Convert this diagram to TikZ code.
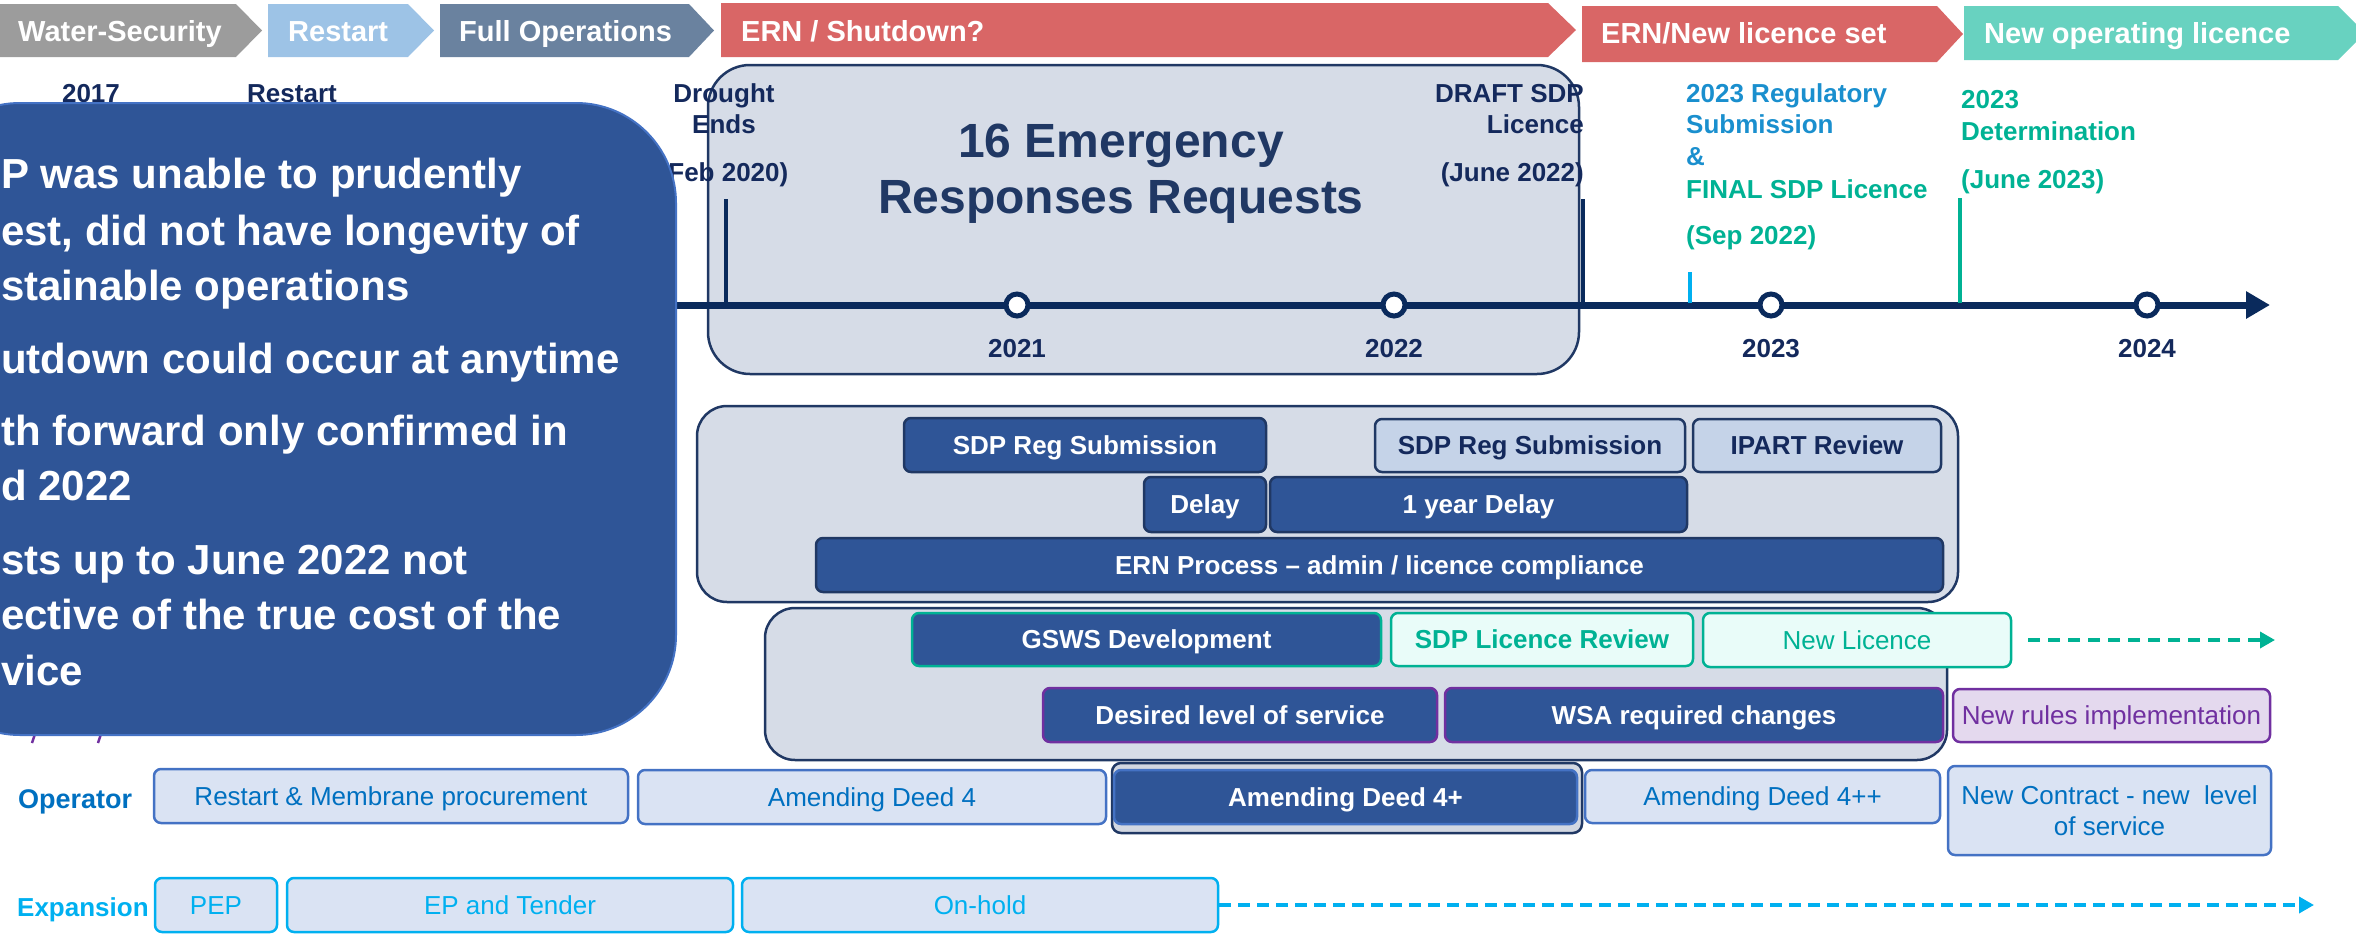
\documentclass[tikz,border=0pt]{standalone}
\usepackage{fontspec}
\setmainfont{Liberation Sans}
\usetikzlibrary{arrows.meta}

\definecolor{navyline}{HTML}{0A2A5C}
\definecolor{navytxt}{HTML}{14295C}
\definecolor{headnavy}{HTML}{203864}
\definecolor{chgray}{HTML}{9C9C9C}
\definecolor{chsky}{HTML}{9DC3E6}
\definecolor{chslate}{HTML}{6A829F}
\definecolor{chred}{HTML}{D96666}
\definecolor{chteal}{HTML}{68D2C0}
\definecolor{darkfill}{HTML}{2F5597}
\definecolor{midblue}{HTML}{4472C4}
\definecolor{panel}{HTML}{D6DCE7}
\definecolor{lightbox}{HTML}{C5D3E8}
\definecolor{opfill}{HTML}{DAE3F3}
\definecolor{optext}{HTML}{0070C0}
\definecolor{expblue}{HTML}{00B0F0}
\definecolor{tealc}{HTML}{00B294}
\definecolor{tealfill}{HTML}{E9FCF9}
\definecolor{purp}{HTML}{7030A0}
\definecolor{purpfill}{HTML}{E4D9EE}
\definecolor{regblue}{HTML}{1A8FCE}
\definecolor{framegray}{HTML}{D2D7E1}

% box from its two corners: name, style, x1, y1, x2, y2, text
\newcommand\mkbox[7]{\node[#2, minimum width={(#5)-(#3)}, minimum height={(#6)-(#4)}] (#1) at ({((#3)+(#5))/2},{((#4)+(#6))/2}) {#7};}

\tikzset{
  chevtxt/.style={text=white, font=\fontsize{29}{34}\selectfont\bfseries, anchor=base west, inner sep=0pt},
  tlabel/.style={text=navytxt, font=\fontsize{26}{31}\selectfont\bfseries, inner sep=0pt},
  yearlbl/.style={tlabel, anchor=base},
  yearmark/.style={circle, draw=navyline, line width=5pt, fill=white, minimum size=22pt, inner sep=0pt},
  axisline/.style={draw=navyline, line width=7pt, -{Triangle[length=24pt,width=26pt]}},
  tickline/.style={line width=4pt},
  bigtxt/.style={text=white, font=\fontsize{42}{50}\selectfont\bfseries, anchor=base west, inner sep=0pt},
  emtitle/.style={text=headnavy, font=\fontsize{48}{58}\selectfont\bfseries, anchor=base, inner sep=0pt},
  shell/.style={rectangle, inner sep=0pt, fill=panel, draw=headnavy, line width=2.5pt},
  boxcore/.style={rectangle, rounded corners=7pt, line width=2.5pt, inner sep=0pt, font=\fontsize{26}{31}\selectfont},
  boxbase/.style={boxcore, text height=18.6pt, text depth=0pt},
  darkbox/.style={boxbase, fill=darkfill, draw=headnavy, text=white, font=\fontsize{26}{31}\selectfont\bfseries},
  reglight/.style={boxbase, fill=lightbox, draw=headnavy, text=navytxt, font=\fontsize{26}{31}\selectfont\bfseries},
  tealdark/.style={darkbox, draw=tealc},
  teallight/.style={boxbase, fill=tealfill, draw=tealc, text=tealc},
  purpdark/.style={darkbox, draw=purp},
  purplight/.style={boxbase, fill=purpfill, draw=purp, text=purp},
  opbox/.style={boxbase, fill=opfill, draw=midblue, text=optext},
  opdark/.style={darkbox, draw=midblue},
  opframe/.style={boxbase, rounded corners=9pt, fill=framegray, draw=headnavy},
  expbox/.style={boxbase, fill=opfill, draw=expblue, text=expblue},
  rowlabel/.style={anchor=west, inner sep=0pt, text height=19pt, text depth=0pt, font=\fontsize{27}{32}\selectfont\bfseries},
  tealarrow/.style={draw=tealc, line width=3.5pt, dash pattern=on 12pt off 8pt, -{Triangle[length=15pt,width=16pt]}},
  exparrow/.style={draw=expblue, line width=3.5pt, dash pattern=on 12pt off 7pt, -{Triangle[length=15pt,width=16pt]}}
}

\begin{document}
\begin{tikzpicture}[x=1pt,y=-1pt]
\useasboundingbox (0,0) rectangle (2356,937);

% ---- phase chevrons ----
\fill[chgray]  (-5,4) -- (236,4) -- (262,30.5) -- (236,57) -- (-5,57) -- cycle;
\fill[chsky]   (268,4) -- (408,4) -- (434,30.5) -- (408,57) -- (268,57) -- cycle;
\fill[chslate] (440,4) -- (689,4) -- (714,30.5) -- (689,57) -- (440,57) -- cycle;
\fill[chred]   (721,3) -- (1548,3) -- (1576,30) -- (1548,57) -- (721,57) -- cycle;
\fill[chred]   (1582,6) -- (1937,6) -- (1963,34) -- (1937,62) -- (1582,62) -- cycle;
\fill[chteal]  (1964,6) -- (2338,6) -- (2365,33) -- (2338,60) -- (1964,60) -- cycle;

\node[chevtxt] (ph1) at (18,41)   {Water-Security};
\node[chevtxt] (ph2) at (288,41)  {Restart};
\node[chevtxt] (ph3) at (459,41)  {Full Operations};
\node[chevtxt] (ph4) at (741,41)  {ERN / Shutdown?};
\node[chevtxt] (ph5) at (1601,43) {ERN/New licence set};
\node[chevtxt] (ph6) at (1984,43) {New operating licence};

% ---- emergency period panel ----
\mkbox{emerg}{shell, rounded corners=42pt}{708}{65}{1579}{374}{}

% ---- time axis ----
\coordinate (axstart) at (600,305);
\coordinate (axend) at (2270,305);
\draw[axisline] (axstart) -- (axend);

\coordinate (tkAtop) at (726,199);  \coordinate (tkAbot) at (726,305);
\coordinate (tkBtop) at (1583,199); \coordinate (tkBbot) at (1583,305);
\coordinate (tkCtop) at (1690,272); \coordinate (tkCbot) at (1690,303);
\coordinate (tkDtop) at (1960,198); \coordinate (tkDbot) at (1960,303);
\draw[tickline, navyline] (tkAtop) -- (tkAbot);
\draw[tickline, navyline] (tkBtop) -- (tkBbot);
\draw[tickline, expblue]  (tkCtop) -- (tkCbot);
\draw[tickline, tealc]    (tkDtop) -- (tkDbot);

\node[yearmark] (m2021) at (1017,305) {};
\node[yearmark] (m2022) at (1394,305) {};
\node[yearmark] (m2023) at (1771,305) {};
\node[yearmark] (m2024) at (2147,305) {};

\node[yearlbl] (y2021) at (1017,357) {2021};
\node[yearlbl] (y2022) at (1394,357) {2022};
\node[yearlbl] (y2023) at (1771,357) {2023};
\node[yearlbl] (y2024) at (2147,357) {2024};

% ---- milestone labels ----
\node[tlabel, anchor=base] (l2017) at (91,102) {2017};
\node[tlabel, anchor=base] (lrst) at (292,102) {Restart};
\node[tlabel, anchor=base] (dr1) at (724,102) {Drought};
\node[tlabel, anchor=base] (dr2) at (724,133) {Ends};
\node[tlabel, anchor=base] (dr3) at (724,181) {(Feb 2020)};
\node[tlabel, anchor=base east] (df1) at (1584,102) {DRAFT SDP};
\node[tlabel, anchor=base east] (df2) at (1584,133) {Licence};
\node[tlabel, anchor=base east] (df3) at (1584,181) {(June 2022)};
\node[tlabel, anchor=base west, text=regblue] (rg1) at (1686,102) {2023 Regulatory};
\node[tlabel, anchor=base west, text=regblue] (rg2) at (1686,133) {Submission};
\node[tlabel, anchor=base west, text=regblue] (rg3) at (1686,165) {\&};
\node[tlabel, anchor=base west, text=tealc] (rg4) at (1686,198) {FINAL SDP Licence};
\node[tlabel, anchor=base west, text=tealc] (rg5) at (1686,244) {(Sep 2022)};
\node[tlabel, anchor=base west, text=tealc] (dt1) at (1961,108) {2023};
\node[tlabel, anchor=base west, text=tealc] (dt2) at (1961,140) {Determination};
\node[tlabel, anchor=base west, text=tealc] (dt3) at (1961,188) {(June 2023)};

\node[emtitle] (em1) at (1121,157) {16 Emergency};
\node[emtitle] (em2) at (1121,213) {Responses Requests};

% ---- regulatory panel ----
\mkbox{grpreg}{shell, rounded corners=30pt}{697}{406}{1958}{602}{}
\mkbox{r1}{darkbox}{904}{418}{1266}{472}{SDP Reg Submission}
\mkbox{r2}{reglight}{1375}{419}{1685}{472}{SDP Reg Submission}
\mkbox{r3}{reglight}{1693}{419}{1941}{472}{IPART Review}
\mkbox{r4}{darkbox}{1144}{477}{1266}{532}{Delay}
\mkbox{r5}{darkbox}{1270}{477}{1687}{532}{1 year Delay}
\mkbox{r6}{darkbox}{816}{538}{1943}{592}{ERN Process – admin / licence compliance}

% ---- policy panel ----
\mkbox{grppol}{shell, rounded corners=30pt}{765}{608}{1947}{760}{}
\mkbox{p1}{tealdark}{912}{613}{1381}{666}{GSWS Development}
\mkbox{p2}{teallight, font=\fontsize{26}{31}\selectfont\bfseries}{1391}{613}{1693}{666}{SDP Licence Review}
\mkbox{p3}{teallight}{1703}{613}{2011}{667}{New Licence}
\coordinate (p3end) at (2275,640);
\draw[tealarrow, shorten <=16pt] (p3.east) -- (p3end);
\mkbox{p4}{purpdark}{1043}{688}{1437}{742}{Desired level of service}
\mkbox{p5}{purpdark}{1445}{688}{1943}{742}{WSA required changes}
\mkbox{p6}{purplight}{1953}{689}{2270}{742}{New rules implementation}

% ---- operator row ----
\node[rowlabel, text=optext] (oplbl) at (18,799) {Operator};
\mkbox{o1}{opbox}{154}{769}{628}{823}{Restart \& Membrane procurement}
\mkbox{o2}{opbox}{638}{770}{1106}{824}{Amending Deed 4}
\mkbox{o3f}{opframe}{1112}{763}{1582}{833}{}
\mkbox{o3}{opdark}{1114}{770}{1577}{824}{Amending Deed 4+}
\mkbox{o4}{opbox}{1585}{770}{1940}{823}{Amending Deed 4++}
\mkbox{o5}{boxcore, fill=opfill, draw=midblue, text=optext, align=center}{1948}{766}{2271}{855}{New Contract - new\ \ level\\of service}

% ---- expansion row ----
\node[rowlabel, text=expblue, font=\fontsize{26}{31}\selectfont\bfseries] (exlbl) at (17,907) {Expansion};
\mkbox{e1}{expbox}{155}{878}{277}{932}{PEP}
\mkbox{e2}{expbox}{287}{878}{733}{932}{EP and Tender}
\mkbox{e3}{expbox}{742}{878}{1218}{932}{On-hold}
\coordinate (e3end) at (2314,905);
\draw[exparrow] (e3.east) -- (e3end);

% glyph tails showing below the summary panel
\draw[purp, line width=2.5pt] (32,743) -- (37,728);
\draw[purp, line width=2.5pt] (98,743) -- (103,728);

% ---- summary panel ----
\mkbox{bigbox}{shell, fill=darkfill, draw=midblue, line width=2pt, rounded corners=100pt}{-80}{103}{676}{735}{}
\node[bigtxt] (b1) at (1,188) {P was unable to prudently};
\node[bigtxt] (b2) at (1,245) {est, did not have longevity of};
\node[bigtxt] (b3) at (1,300) {stainable operations};
\node[bigtxt] (b4) at (1,373) {utdown could occur at anytime};
\node[bigtxt] (b5) at (1,445) {th forward only confirmed in};
\node[bigtxt] (b6) at (1,500) {d 2022};
\node[bigtxt] (b7) at (1,574) {sts up to June 2022 not};
\node[bigtxt] (b8) at (1,629) {ective of the true cost of the};
\node[bigtxt] (b9) at (1,685) {vice};
\end{tikzpicture}
\end{document}
